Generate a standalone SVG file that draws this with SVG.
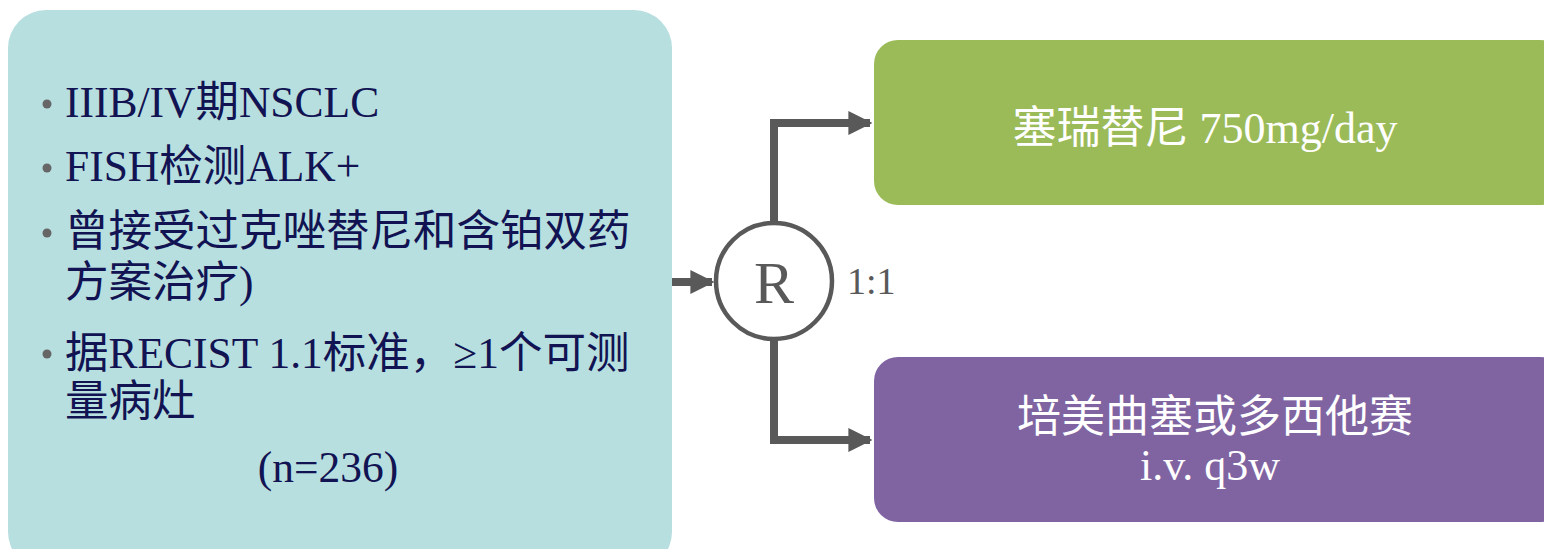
<svg xmlns="http://www.w3.org/2000/svg" width="1544" height="549" viewBox="0 0 1544 549">
<defs>
<style>
.t{font-family:"Liberation Serif","Noto Sans CJK SC",serif;font-size:43.5px;fill:#111352}
.w{font-family:"Liberation Serif","Noto Sans CJK SC",serif;font-size:44px;fill:#ffffff}
.g{font-family:"Liberation Serif","Noto Sans CJK SC",serif;fill:#595959}
.conn{fill:none;stroke:#595959;stroke-width:8}
.dot{fill:#666666}
</style>
<marker id="ah" viewBox="0 0 10 10" refX="9" refY="5" markerWidth="3" markerHeight="3.2" orient="auto" markerUnits="strokeWidth">
<path d="M0,0 L10,5 L0,10 Z" fill="#595959"/>
</marker>
</defs>
<rect width="1544" height="549" fill="#ffffff"/>
<g id="eligibility">
<rect x="8" y="10" width="664" height="560" rx="38" fill="#b8dfe0"/>
<circle class="dot" cx="47" cy="104" r="4.5"/>
<circle class="dot" cx="47" cy="168" r="4.5"/>
<circle class="dot" cx="47" cy="233" r="4.5"/>
<circle class="dot" cx="47" cy="354" r="4.5"/>
<text class="t" x="65" y="117">IIIB/IV期NSCLC</text>
<text class="t" x="65" y="181">FISH检测ALK+</text>
<text class="t" x="65" y="246">曾接受过克唑替尼和含铂双药</text>
<text class="t" x="65" y="297">方案治疗)</text>
<text class="t" x="65" y="368">据RECIST 1.1标准，≥1个可测</text>
<text class="t" x="65" y="416">量病灶</text>
<text class="t" x="328" y="482" text-anchor="middle">(n=236)</text>
</g>
<g id="connectors">
<path class="conn" d="M672,282 L712,282" marker-end="url(#ah)"/>
<path class="conn" d="M774,222 L774,123 L870,123" marker-end="url(#ah)"/>
<path class="conn" d="M774,340 L774,440 L870,440" marker-end="url(#ah)"/>
</g>
<g id="randomization">
<circle cx="774" cy="281" r="58" fill="#ffffff" stroke="#595959" stroke-width="4.5"/>
<text class="g" x="774" y="303" text-anchor="middle" font-size="60">R</text>
<text class="g" x="847" y="294" font-size="38">1:1</text>
</g>
<g id="ceritinib">
<rect x="874" y="40" width="690" height="165" rx="24" fill="#9bbb59"/>
<text class="w" x="1205" y="143" text-anchor="middle">塞瑞替尼 750mg/day</text>
</g>
<g id="chemo">
<rect x="874" y="357" width="690" height="165" rx="24" fill="#8064a2"/>
<text class="w" x="1215" y="432" text-anchor="middle">培美曲塞或多西他赛</text>
<text class="w" x="1210" y="480" text-anchor="middle">i.v. q3w</text>
</g>
</svg>
